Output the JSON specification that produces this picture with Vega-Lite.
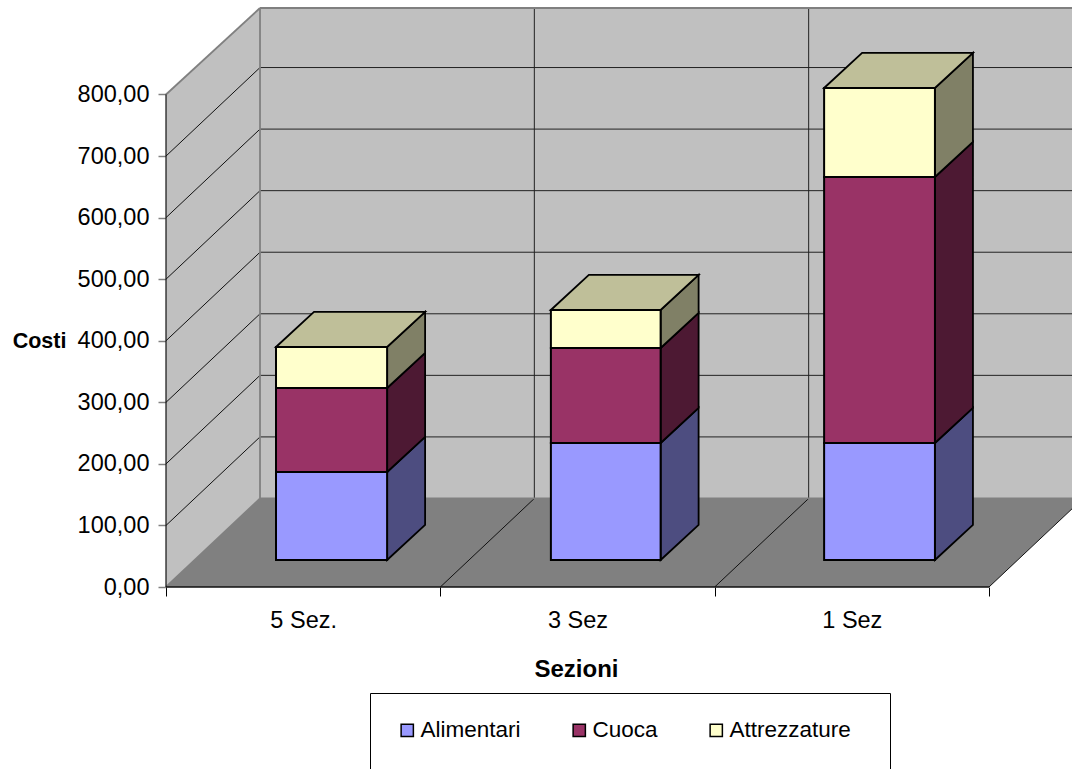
{
"$schema":"https://vega.github.io/schema/vega-lite/v6.json",
"width":906,"height":579,
"autosize":{"type":"none"},
"padding":{"left":166,"top":8,"right":0,"bottom":182},
"background":"white",
"config":{"view":{"stroke":null},"font":"Liberation Sans"},
"layer":[
{"data":{"values":[{"x":0.3427,"x2":3.3026,"y":143.8,"y2":940.5}]},
 "mark":{"type":"rect","color":"#C0C0C0"},
 "encoding":{
  "x":{"field":"x","type":"quantitative","scale":{"domain":[0,3.3026],"nice":false,"zero":false},
   "axis":{"title":"Sezioni","titleFontSize":24,"titleFontWeight":"bold","titleFont":"Liberation Sans","titleColor":"black","titleX":410,"titleY":70,"domain":false,"grid":false,
    "values":[0,0.5,1,1.5,2,2.5,3],"tickSize":9,"tickColor":"black","tickWidth":1,"tickOpacity":{"condition":{"test":"datum.value % 1 != 0","value":0},"value":1},
    "labelExpr":"datum.value==0.5?'5 Sez.':datum.value==1.5?'3 Sez':datum.value==2.5?'1 Sez':''","labelFontSize":23.5,"labelColor":"black","labelFont":"Liberation Sans","labelPadding":12,"labelFlush":false,"labelOverlap":false,"labelBaseline":"top"}},
  "x2":{"field":"x2"},
  "y":{"field":"y","type":"quantitative","scale":{"domain":[0,940.5],"nice":false,"zero":false},
   "axis":{"title":"Costi","titleFontSize":21.5,"titleFontWeight":"bold","titleFont":"Liberation Sans","titleColor":"black","titleAngle":0,"titleX":-127,"titleY":333,"titleAlign":"center","titleBaseline":"middle","domain":false,"grid":false,
    "values":[0,100,200,300,400,500,600,700,800],"tickSize":8,"tickColor":"#808080","tickWidth":1.5,
    "labelExpr":"replace(format(datum.value,'.2f'),'.',',')","labelFontSize":23.5,"labelColor":"black","labelFont":"Liberation Sans","labelPadding":9,"labelOverlap":false}},
  "y2":{"field":"y2"}}},
{"data":{"values":[{"x":0,"y":0,"y2":800},{"x":0.3427,"y":143.8,"y2":940.5}]},
 "mark":{"type":"area","color":"#C0C0C0","stroke":null},
 "encoding":{"x":{"field":"x","type":"quantitative"},"y":{"field":"y","type":"quantitative"},"y2":{"field":"y2"}}},
{"data":{"values":[{"y":0,"x":0,"x2":3},{"y":143.8,"x":0.3427,"x2":3.3427}]},
 "mark":{"type":"area","orient":"horizontal","color":"#808080","clip":true},
 "encoding":{"y":{"field":"y","type":"quantitative"},"x":{"field":"x","type":"quantitative"},"x2":{"field":"x2"}}},
{"data":{"values":[{"y":243.8},{"y":343.8},{"y":443.8},{"y":543.8},{"y":643.8},{"y":743.8},{"y":843.8}]},
 "mark":{"type":"rule","color":"#222222","strokeWidth":1},
 "encoding":{"y":{"field":"y","type":"quantitative"},"x":{"datum":0.3427,"type":"quantitative"},"x2":{"datum":3.3026}}},
{"data":{"values":[{"x":1.3427},{"x":2.3427}]},
 "mark":{"type":"rule","color":"#222222","strokeWidth":1},
 "encoding":{"x":{"field":"x","type":"quantitative"},"y":{"datum":143.8,"type":"quantitative"},"y2":{"datum":940.5}}},
{"data":{"values":[
 {"k":100,"x":0,"y":100},{"k":100,"x":0.3427,"y":243.8},
 {"k":200,"x":0,"y":200},{"k":200,"x":0.3427,"y":343.8},
 {"k":300,"x":0,"y":300},{"k":300,"x":0.3427,"y":443.8},
 {"k":400,"x":0,"y":400},{"k":400,"x":0.3427,"y":543.8},
 {"k":500,"x":0,"y":500},{"k":500,"x":0.3427,"y":643.8},
 {"k":600,"x":0,"y":600},{"k":600,"x":0.3427,"y":743.8},
 {"k":700,"x":0,"y":700},{"k":700,"x":0.3427,"y":843.8},
 {"k":1001,"x":1,"y":0},{"k":1001,"x":1.3427,"y":143.8},
 {"k":1002,"x":2,"y":0},{"k":1002,"x":2.3427,"y":143.8},
 {"k":1003,"x":3,"y":0},{"k":1003,"x":3.3427,"y":143.8}]},
 "mark":{"type":"line","color":"#111111","strokeWidth":1,"clip":true},
 "encoding":{"x":{"field":"x","type":"quantitative"},"y":{"field":"y","type":"quantitative"},"detail":{"field":"k"}}},
{"data":{"values":[
 {"k":"a","x":0,"y":800},{"k":"a","x":0.3427,"y":940.5},
 {"k":"b","x":0.3427,"y":940.5},{"k":"b","x":3.3026,"y":940.5},
 {"k":"c","x":0.3427,"y":940.5},{"k":"c","x":0.3427,"y":143.8},
 {"k":"d","x":0.3427,"y":143.8},{"k":"d","x":3.3026,"y":143.8},
 {"k":"e","x":0,"y":0},{"k":"e","x":0.3427,"y":143.8}]},
 "mark":{"type":"line","color":"#808080","strokeWidth":1.8},
 "encoding":{"x":{"field":"x","type":"quantitative"},"y":{"field":"y","type":"quantitative","sort":null},"detail":{"field":"k"},"order":{"field":"y"}}},
{"data":{"values":[{"x":0,"x2":3,"y":0}]},
 "mark":{"type":"rule","color":"#111111","strokeWidth":1.5},
 "encoding":{"x":{"field":"x","type":"quantitative"},"x2":{"field":"x2"},"y":{"field":"y","type":"quantitative"}}},
{"data":{"values":[{"x":0,"y":0,"y2":800}]},
 "mark":{"type":"rule","color":"#111111","strokeWidth":1.2},
 "encoding":{"x":{"field":"x","type":"quantitative"},"y":{"field":"y","type":"quantitative"},"y2":{"field":"y2"}}},
{"data":{"values":[
 {"id":"1a","faccia":"Alimentari lato","x":0.806,"y":43.9,"y2":186.8},{"id":"1a","faccia":"Alimentari lato","x":0.9445,"y":100.9,"y2":243.8},
 {"id":"1c","faccia":"Cuoca lato","x":0.806,"y":186.8,"y2":323.3},{"id":"1c","faccia":"Cuoca lato","x":0.9445,"y":243.8,"y2":380.3},
 {"id":"1t","faccia":"Attrezzature lato","x":0.806,"y":323.3,"y2":389.9},{"id":"1t","faccia":"Attrezzature lato","x":0.9445,"y":380.3,"y2":446.9},
 {"id":"2a","faccia":"Alimentari lato","x":1.803,"y":43.9,"y2":233.9},{"id":"2a","faccia":"Alimentari lato","x":1.9415,"y":100.9,"y2":290.9},
 {"id":"2c","faccia":"Cuoca lato","x":1.803,"y":233.9,"y2":388.2},{"id":"2c","faccia":"Cuoca lato","x":1.9415,"y":290.9,"y2":445.2},
 {"id":"2t","faccia":"Attrezzature lato","x":1.803,"y":388.2,"y2":450},{"id":"2t","faccia":"Attrezzature lato","x":1.9415,"y":445.2,"y2":507},
 {"id":"3a","faccia":"Alimentari lato","x":2.803,"y":43.9,"y2":233.9},{"id":"3a","faccia":"Alimentari lato","x":2.9415,"y":100.9,"y2":290.9},
 {"id":"3c","faccia":"Cuoca lato","x":2.803,"y":233.9,"y2":666},{"id":"3c","faccia":"Cuoca lato","x":2.9415,"y":290.9,"y2":723},
 {"id":"3t","faccia":"Attrezzature lato","x":2.803,"y":666,"y2":810.6},{"id":"3t","faccia":"Attrezzature lato","x":2.9415,"y":723,"y2":867.6}]},
 "mark":{"type":"area","stroke":"black","strokeWidth":1.8},
 "encoding":{"x":{"field":"x","type":"quantitative"},"y":{"field":"y","type":"quantitative"},"y2":{"field":"y2"},"detail":{"field":"id"},
  "fill":{"field":"faccia","type":"nominal"}}},
{"data":{"values":[
 {"id":"1","faccia":"Attrezzature alto","y":389.9,"x":0.401,"x2":0.806},{"id":"1","faccia":"Attrezzature alto","y":446.9,"x":0.5395,"x2":0.9445},
 {"id":"2","faccia":"Attrezzature alto","y":450,"x":1.403,"x2":1.803},{"id":"2","faccia":"Attrezzature alto","y":507,"x":1.5415,"x2":1.9415},
 {"id":"3","faccia":"Attrezzature alto","y":810.6,"x":2.399,"x2":2.803},{"id":"3","faccia":"Attrezzature alto","y":867.6,"x":2.5375,"x2":2.9415}]},
 "mark":{"type":"area","orient":"horizontal","stroke":"black","strokeWidth":1.8},
 "encoding":{"y":{"field":"y","type":"quantitative"},"x":{"field":"x","type":"quantitative"},"x2":{"field":"x2"},"detail":{"field":"id"},
  "fill":{"field":"faccia","type":"nominal"}}},
{"data":{"values":[
 {"sezione":"5 Sez.","serie":"Alimentari","x":0.401,"x2":0.806,"y":43.9,"y2":186.8},
 {"sezione":"5 Sez.","serie":"Cuoca","x":0.401,"x2":0.806,"y":186.8,"y2":323.3},
 {"sezione":"5 Sez.","serie":"Attrezzature","x":0.401,"x2":0.806,"y":323.3,"y2":389.9},
 {"sezione":"3 Sez","serie":"Alimentari","x":1.403,"x2":1.803,"y":43.9,"y2":233.9},
 {"sezione":"3 Sez","serie":"Cuoca","x":1.403,"x2":1.803,"y":233.9,"y2":388.2},
 {"sezione":"3 Sez","serie":"Attrezzature","x":1.403,"x2":1.803,"y":388.2,"y2":450},
 {"sezione":"1 Sez","serie":"Alimentari","x":2.399,"x2":2.803,"y":43.9,"y2":233.9},
 {"sezione":"1 Sez","serie":"Cuoca","x":2.399,"x2":2.803,"y":233.9,"y2":666},
 {"sezione":"1 Sez","serie":"Attrezzature","x":2.399,"x2":2.803,"y":666,"y2":810.6}]},
 "mark":{"type":"rect","stroke":"black","strokeWidth":2},
 "encoding":{"x":{"field":"x","type":"quantitative"},"x2":{"field":"x2"},"y":{"field":"y","type":"quantitative"},"y2":{"field":"y2"},
  "fill":{"field":"serie","type":"nominal",
   "scale":{"domain":["Alimentari","Cuoca","Attrezzature","Alimentari lato","Cuoca lato","Attrezzature lato","Attrezzature alto"],
            "range":["#9999FF","#993366","#FFFFCC","#4D4D80","#4D1933","#808066","#BFBF99"]},
   "legend":{"orient":"none","legendX":204,"legendY":685,"direction":"horizontal","columns":3,"values":["Alimentari","Cuoca","Attrezzature"],
    "title":" ","titleOrient":"right","titlePadding":13,"titleFontSize":30,
    "strokeColor":"black","fillColor":"white","padding":26,"columnPadding":47,
    "symbolType":"square","symbolSize":150,"symbolStrokeColor":"black","symbolStrokeWidth":1.5,
    "labelFontSize":22.5,"labelColor":"black","labelFont":"Liberation Sans","labelOffset":2,"labelLimit":300}}}}
]}
